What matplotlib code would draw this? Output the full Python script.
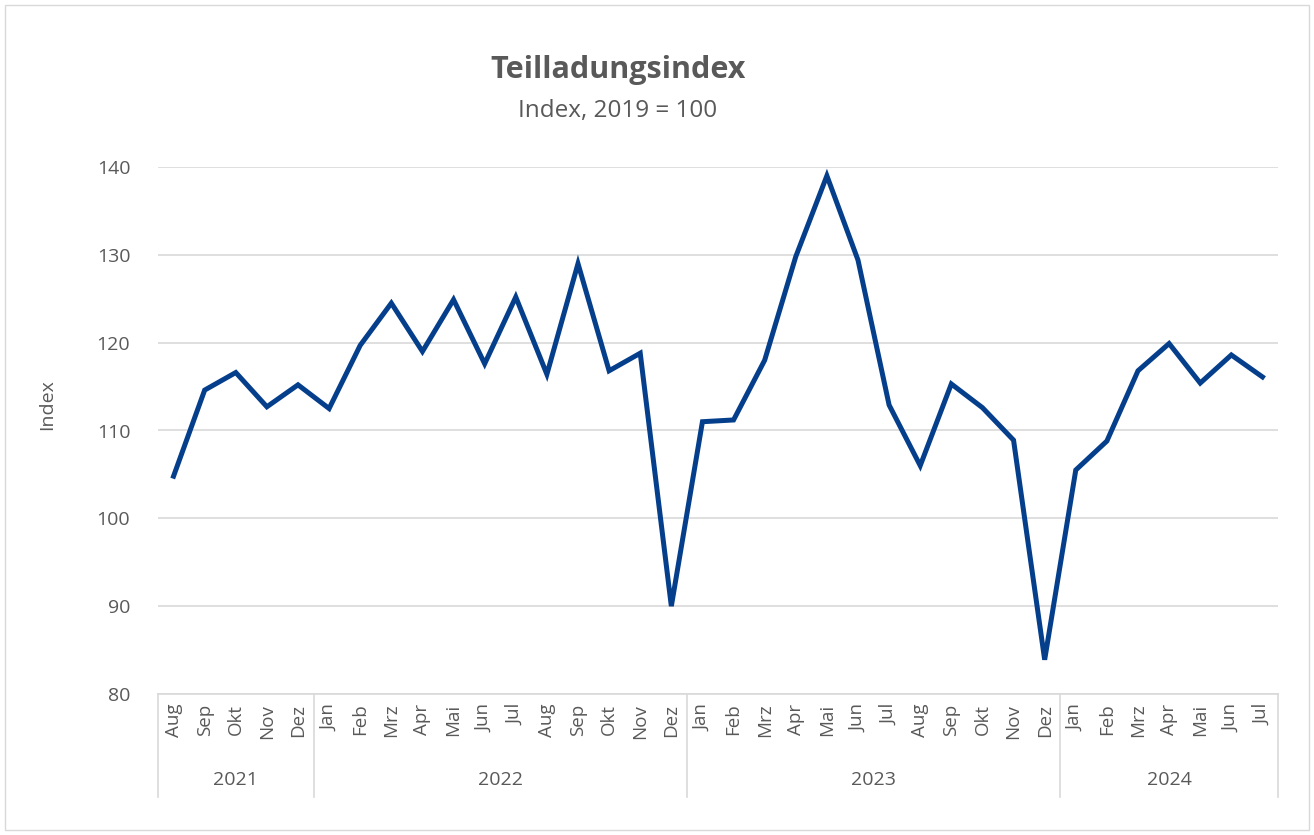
import matplotlib
matplotlib.use("Agg")
from matplotlib import pyplot as plt
from matplotlib.patches import Rectangle

plt.rcParams['font.family'] = ['Open Sans', 'DejaVu Sans']

# data
months = ["Aug", "Sep", "Okt", "Nov", "Dez",
          "Jan", "Feb", "Mrz", "Apr", "Mai", "Jun", "Jul", "Aug", "Sep", "Okt", "Nov", "Dez",
          "Jan", "Feb", "Mrz", "Apr", "Mai", "Jun", "Jul", "Aug", "Sep", "Okt", "Nov", "Dez",
          "Jan", "Feb", "Mrz", "Apr", "Mai", "Jun", "Jul"]
years = ["2021", "2022", "2023", "2024"]
months_per_year = [5, 12, 12, 7]
values = [104.8, 114.6, 116.6, 112.7, 115.2,
          112.5, 119.7, 124.5, 119.0, 124.9, 117.6, 125.2, 116.4, 129.0, 116.8, 118.8, 90.0,
          111.0, 111.2, 118.0, 129.8, 139.0, 129.4, 112.9, 106.0, 115.3, 112.6, 108.9, 83.9,
          105.5, 108.8, 116.8, 119.9, 115.4, 118.6, 116.1]

text_col = "#595959"
grid_col = "#d9d9d9"

fig = plt.figure(figsize=(13.14, 8.35), dpi=100)
ax = fig.add_axes([158 / 1314, 1 - 694 / 835, (1278 - 158) / 1314, (694 - 167) / 835])

x = list(range(len(values)))
ax.plot(x, values, color="#053f8c", linewidth=3.6, solid_joinstyle="miter", zorder=3)

ax.set_xlim(-0.5, len(values) - 0.5)
ax.set_ylim(80, 140)
ax.set_yticks(range(80, 141, 10))
ax.grid(axis="y", color=grid_col, linewidth=1.2)
ax.set_axisbelow(True)
for s in ["top", "right", "left"]:
    ax.spines[s].set_visible(False)
ax.spines["bottom"].set_color(grid_col)
ax.spines["bottom"].set_linewidth(1.2)

ax.set_xticks(x)
ax.set_xticklabels(months, rotation=90, fontsize=13.5, color=text_col)
ax.tick_params(axis="x", length=0, pad=7)
ax.tick_params(axis="y", length=0, pad=20, labelsize=14, labelcolor=text_col)

# year groups below the month labels
trans = ax.get_xaxis_transform()
edge = -0.5
for yr, n in zip(years, months_per_year):
    ax.plot([edge, edge], [0, -0.196], color=grid_col, linewidth=1.2, transform=trans, clip_on=False)
    ax.text(edge + n / 2, -0.163, yr, ha="center", va="center", fontsize=14,
            color=text_col, transform=trans)
    edge += n
ax.plot([edge, edge], [0, -0.196], color=grid_col, linewidth=1.2, transform=trans, clip_on=False)

fig.text(47 / 1314, 1 - 405 / 835, "Index", rotation=90, ha="center", va="center",
         fontsize=14, color=text_col)
fig.text(618 / 1314, 1 - 70 / 835, "Teilladungsindex", ha="center", va="center",
         fontsize=22, fontweight="bold", color=text_col)
fig.text(618 / 1314, 1 - 111 / 835, "Index, 2019 = 100", ha="center", va="center",
         fontsize=17.5, color=text_col)

fig.patches.append(Rectangle((5 / 1314, 5 / 835), 1 - 10 / 1314, 1 - 10 / 835,
                             transform=fig.transFigure, fill=False, edgecolor=grid_col, linewidth=1))

fig.savefig("out.png", dpi=100)
